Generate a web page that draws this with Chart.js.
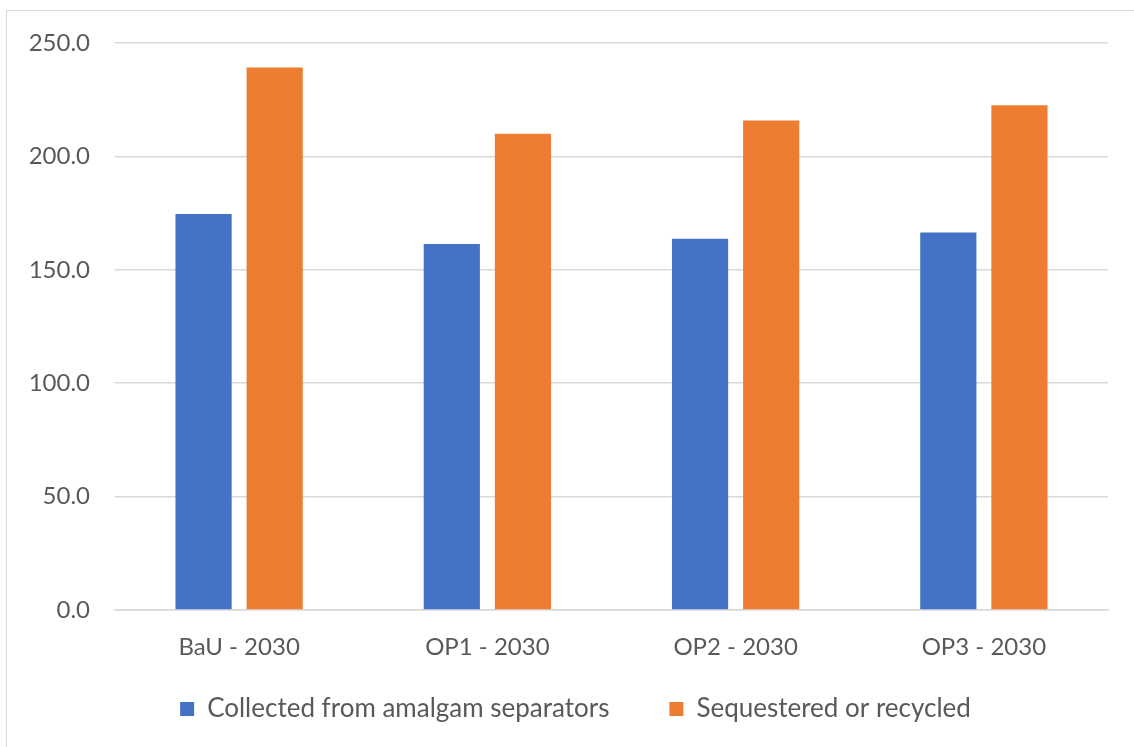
<!DOCTYPE html>
<html>
<head>
<meta charset="utf-8">
<script src="https://cdn.jsdelivr.net/npm/chart.js@4/dist/chart.umd.min.js"></script>
<style>
  html, body { margin: 0; padding: 0; background: #fff; overflow: hidden; }
  #wrap { position: relative; width: 1134px; height: 747px; overflow: hidden; }
  #frame { position: absolute; left: 6px; top: 10px; width: 1200px; height: 800px; border: 1px solid #d9d9d9; }
  #chart { position: absolute; left: 0; top: 0; }
</style>
</head>
<body>
<div id="wrap">
  <div id="frame"></div>
  <canvas id="chart" width="1134" height="747"></canvas>
</div>
<script>
const categories = ['BaU - 2030', 'OP1 - 2030', 'OP2 - 2030', 'OP3 - 2030'];
const collected = [174.6, 161.4, 163.7, 166.4];
const sequestered = [239.2, 210.0, 215.8, 222.6];
const seriesNames = ['Collected from amalgam separators', 'Sequestered or recycled'];

// nudge the legend into the spot it has in the original
const legendNudge = {
    id: 'legendNudge',
    afterLayout(chart) {
        const lg = chart.legend;
        lg.top -= 15;
        lg.bottom -= 15;
        lg.left += 14;
        lg.right += 14;
        chart.scales.x.bottom += 30;
    }
};

(function main_chart()
{
    const ctx = document.getElementById('chart');
    // wider letter spacing, like the original Office text
    ctx.getContext('2d').letterSpacing = '0.8px';
    const myChart = new Chart(ctx, {
        type: 'bar',
        data: {
            labels: categories,
            datasets: [{
                label: seriesNames[0],
                data: collected,
                backgroundColor: '#4472C4',
                categoryPercentage: 0.573,
                barPercentage: 0.79
            }, {
                label: seriesNames[1],
                data: sequestered,
                backgroundColor: '#ED7D31',
                categoryPercentage: 0.573,
                barPercentage: 0.79
            }]
        },
        options: {
            responsive: false,
            animation: false,
            layout: {
                padding: { left: 15, right: 26, top: 43, bottom: 0 }
            },
            scales: {
                x: {
                    afterFit: function (scale) { scale.height = 41; },
                    grid: { display: false, drawTicks: false },
                    border: { display: true, color: '#d9d9d9', width: 1.5 },
                    ticks: {
                        color: '#595959',
                        font: { family: 'Lato', size: 24 },
                        padding: 23
                    }
                },
                y: {
                    min: 0,
                    max: 250,
                    afterFit: function (scale) { scale.width = 100; },
                    grid: { color: '#d9d9d9', lineWidth: 1.5, drawTicks: false },
                    border: { display: false },
                    ticks: {
                        stepSize: 50,
                        color: '#595959',
                        font: { family: 'Lato', size: 24 },
                        padding: 25,
                        callback: function (v) { return v.toFixed(1); }
                    }
                }
            },
            plugins: {
                legend: {
                    position: 'bottom',
                    labels: {
                        color: '#595959',
                        font: { family: 'Lato', size: 26 },
                        boxWidth: 14,
                        boxHeight: 14,
                        padding: 60
                    }
                },
                tooltip: { enabled: false }
            }
        },
        plugins: [legendNudge]
    });
})();
</script>
</body>
</html>
